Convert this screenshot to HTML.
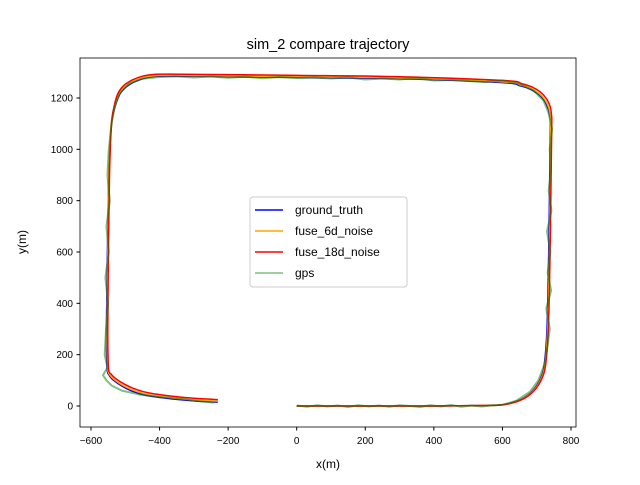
<!DOCTYPE html>
<html><head><meta charset="utf-8"><style>
body{margin:0;background:#fff}
svg{font-family:"Liberation Sans","DejaVu Sans",sans-serif}
</style></head><body>
<svg id="c" width="640" height="480" xmlns="http://www.w3.org/2000/svg">
<rect x="0" y="0" width="640" height="480" fill="#fff"/>
<text x="328" y="49" font-size="14.5" text-anchor="middle">sim_2 compare trajectory</text>
<g id="plot"></g>
<rect x="80" y="58" width="496" height="369" fill="none" stroke="#000" stroke-width="0.8"/>
<g id="ticks"></g>
<text x="328" y="468" font-size="12" text-anchor="middle">x(m)</text>
<text x="26" y="242" font-size="12" text-anchor="middle" transform="rotate(-90 26 242)">y(m)</text>
<g>
<rect x="250" y="197" width="157" height="90" rx="3" fill="#fff" fill-opacity="0.8" stroke="#ccc"/>
<line x1="255" y1="210" x2="283" y2="210" stroke="blue" stroke-width="1.5"/><text x="295" y="214" font-size="12">ground_truth</text>
<line x1="255" y1="231" x2="283" y2="231" stroke="orange" stroke-width="1.5"/><text x="295" y="235" font-size="12">fuse_6d_noise</text>
<line x1="255" y1="252" x2="283" y2="252" stroke="red" stroke-width="1.5"/><text x="295" y="256" font-size="12">fuse_18d_noise</text>
<line x1="255" y1="273" x2="283" y2="273" stroke="green" stroke-opacity="0.5" stroke-width="1.5"/><text x="295" y="277" font-size="12">gps</text>
</g>
</svg>
<script>
const truthX=[0,200,400,550,600,640,670,695,712,722,730,735,738,740,738,733,722,705,680,650,600,300,0,-200,-370,-410,-445,-475,-500,-518,-530,-540,-548,-552,-555,-553,-546,-532,-510,-480,-440,-380,-300,-230];
const truthY=[0,0,0,2,5,18,38,70,110,160,300,600,900,1100,1130,1160,1190,1215,1235,1248,1260,1275,1280,1283,1285,1284,1277,1262,1240,1210,1165,1100,900,600,300,150,118,98,78,58,42,30,20,15];
const f6X=[0,200,400,550,602,642,672,697,714,724,732,737,740,741,739,735,724,707,682,652,602,300,0,-200,-372,-412,-447,-477,-502,-520,-531,-541,-548,-551,-553,-551,-544,-530,-508,-478,-438,-378,-300,-230];
const f6Y=[0,0,0,2,5,18,38,70,110,160,300,600,900,1100,1132,1163,1193,1218,1238,1251,1263,1278,1283,1286,1288,1287,1280,1265,1243,1212,1167,1100,900,600,300,150,120,101,81,62,46,34,24,19];
const f18X=[0,200,400,550,604,644,674,699,716,726,734,739,742,744,743,739,728,711,686,656,605,300,0,-200,-375,-415,-450,-480,-505,-522,-532,-540,-546,-549,-551,-549,-541,-527,-505,-475,-435,-375,-300,-230];
const f18Y=[0,0,0,2,5,18,38,70,110,160,300,600,900,1100,1135,1168,1198,1223,1243,1256,1268,1283,1288,1291,1293,1292,1285,1270,1248,1216,1170,1100,900,600,300,150,124,106,87,68,52,40,30,25];
const gpsX=[0,30,60,90,120,150,180,210,240,270,300,330,360,390,420,450,480,510,540,570,600,640,680,705,722,730,738,728,742,732,740,730,743,735,742,738,745,735,720,690,650,600,550,500,450,400,350,300,250,200,150,100,50,0,-50,-100,-150,-200,-250,-300,-350,-400,-450,-490,-515,-530,-540,-548,-552,-545,-555,-548,-558,-550,-556,-560,-552,-565,-555,-540,-510,-460,-400,-340,-280,-240];
const gpsY=[2,-3,3,-2,2,-4,3,-2,2,-3,3,0,-4,3,-2,4,-3,2,-2,3,5,20,55,100,160,220,300,380,450,520,600,680,760,840,920,1000,1080,1140,1190,1230,1255,1268,1262,1266,1270,1268,1278,1272,1276,1272,1280,1276,1280,1278,1282,1277,1283,1279,1284,1280,1284,1282,1275,1255,1220,1170,1100,1000,900,800,700,600,500,400,300,200,150,120,100,80,60,45,35,28,18,13];
const xTicks=[-600,-400,-200,0,200,400,600,800];
const yTicks=[0,200,400,600,800,1000,1200];
const sx=v=>296.7+v*0.34286, sy=v=>406-v*0.25667;
const NS="http://www.w3.org/2000/svg";
const plot=document.getElementById('plot'),tk=document.getElementById('ticks');
function smooth(P){let d='M'+P[0][0]+','+P[0][1];
for(let i=0;i<P.length-1;i++){const p0=P[Math.max(0,i-1)],p1=P[i],p2=P[i+1],p3=P[Math.min(P.length-1,i+2)];
const c1=[p1[0]+(p2[0]-p0[0])/6,p1[1]+(p2[1]-p0[1])/6],c2=[p2[0]-(p3[0]-p1[0])/6,p2[1]-(p3[1]-p1[1])/6];
d+=' C'+c1[0]+','+c1[1]+' '+c2[0]+','+c2[1]+' '+p2[0]+','+p2[1];}return d;}
function line(xs,ys,col,w,op,name,sm){const p=document.createElementNS(NS,'path');
const P=xs.map((x,i)=>[sx(x),sy(ys[i])]);
p.setAttribute('d',sm?smooth(P):'M'+P.map(q=>q.join(',')).join(' L'));
p.setAttribute('fill','none');p.setAttribute('stroke',col);p.setAttribute('stroke-width',w);p.setAttribute('stroke-opacity',op);p.setAttribute('stroke-linejoin','round');


plot.appendChild(p);}
line(truthX,truthY,'blue',1.5,1,'ground-truth-line',true);
line(f6X,f6Y,'orange',1.5,1,'fuse-6d-line',true);
line(f18X,f18Y,'red',1.5,1,'fuse-18d-line',true);
line(gpsX,gpsY,'green',2,0.5,'gps-line',false);
xTicks.forEach(v=>{const x=sx(v);const l=document.createElementNS(NS,'line');l.setAttribute('x1',x);l.setAttribute('x2',x);l.setAttribute('y1',427);l.setAttribute('y2',430.5);l.setAttribute('stroke','#000');tk.appendChild(l);
const t=document.createElementNS(NS,'text');t.setAttribute('x',x);t.setAttribute('y',444);t.setAttribute('font-size','10');t.setAttribute('text-anchor','middle');t.textContent=v<0?'\u2212'+(-v):v;


tk.appendChild(t);});
yTicks.forEach(v=>{const y=sy(v);const l=document.createElementNS(NS,'line');l.setAttribute('x1',76.5);l.setAttribute('x2',80);l.setAttribute('y1',y);l.setAttribute('y2',y);l.setAttribute('stroke','#000');tk.appendChild(l);
const t=document.createElementNS(NS,'text');t.setAttribute('x',73);t.setAttribute('y',y+3.5);t.setAttribute('font-size','10');t.setAttribute('text-anchor','end');t.textContent=v;


tk.appendChild(t);});
</script>
</body></html>
